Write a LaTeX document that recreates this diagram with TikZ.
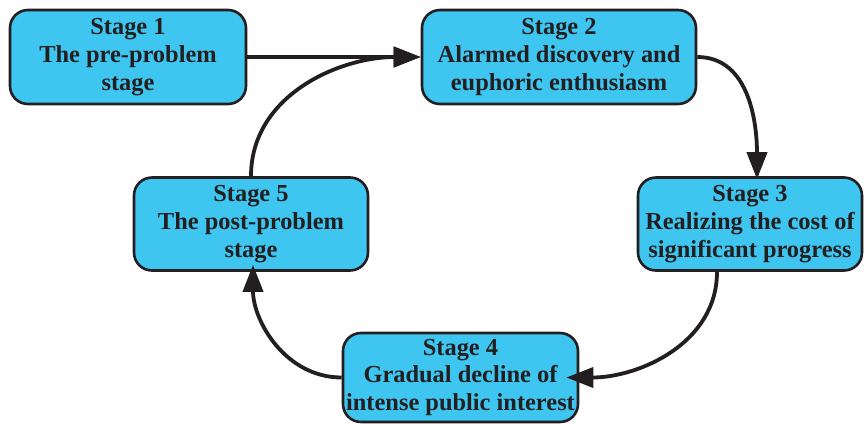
\documentclass[tikz,border=0pt]{standalone}
\usepackage{fontspec}
\setmainfont{Liberation Serif}
\usetikzlibrary{arrows.meta}
\definecolor{boxfill}{RGB}{62,197,240}
\definecolor{ink}{RGB}{35,31,32}
\tikzset{
  stagebox/.style={draw=ink, fill=boxfill, line width=2.6bp, rounded corners=18bp,
    align=center, inner sep=0pt, text=ink,
    font=\fontsize{24.5}{28}\selectfont\bfseries},
  flow/.style={draw=ink, line width=3.8bp, -{Triangle[length=27bp,width=20bp]}}
}
\begin{document}
\begin{tikzpicture}[x=1bp,y=-1bp]
\useasboundingbox (0,0) rectangle (864,423);
\node[stagebox, minimum width=236bp, minimum height=94bp] (s1) at (128,57) {Stage 1\\The pre-problem\\stage};
\node[stagebox, minimum width=274bp, minimum height=94bp] (s2) at (559,57) {Stage 2\\Alarmed discovery and\\euphoric enthusiasm};
\node[stagebox, minimum width=224bp, minimum height=93bp] (s3) at (750,224) {Stage 3\\Realizing the cost of\\significant progress};
\node[stagebox, minimum width=235bp, minimum height=89bp] (s4) at (460.5,377.5) {Stage 4\\Gradual decline of\\intense public interest};
\node[stagebox, minimum width=234bp, minimum height=93bp] (s5) at (251,224) {Stage 5\\The post-problem\\stage};
\draw[flow] (s1.east) -- (s2.west);
\draw[flow] (s2.east) to[out=0,in=90] ([xshift=7bp,yshift=-3bp]s3.north);
\draw[flow] ([xshift=-33bp]s3.south) to[out=-90,in=0] ([xshift=-13bp]s4.east);
\draw[flow] (s4.west) to[out=180,in=-90] ([xshift=2bp,yshift=7bp]s5.south);
\draw[flow] (s5.north) to[out=90,in=180] (s2.west);
\end{tikzpicture}
\end{document}
